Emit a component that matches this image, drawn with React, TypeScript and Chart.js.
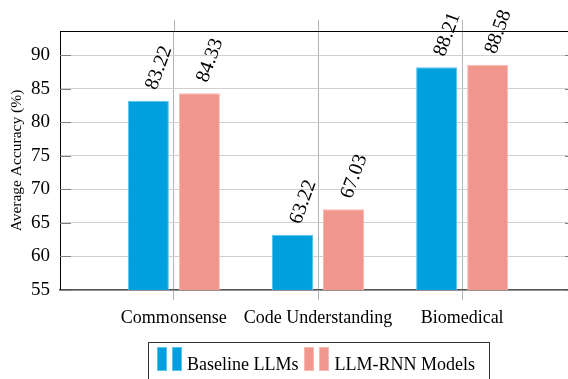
import { useEffect, useRef } from "react";
import { Chart, registerables } from "chart.js";

Chart.register(...registerables);

const categories = ["Commonsense", "Code Understanding", "Biomedical"];
const baselineLLMs = [83.22, 63.22, 88.21];
const llmRnnModels = [84.33, 67.03, 88.58];
const seriesLabels = ["Baseline LLMs", "LLM-RNN Models"];
const yTicks = [55, 60, 65, 70, 75, 80, 85, 90];

const BLUE = "rgb(0,160,222)";
const BLUE_EDGE = "rgb(90,195,238)";
const PINK = "rgb(241,150,141)";
const PINK_EDGE = "rgb(247,185,178)";
const FONT = "'Liberation Serif', 'Times New Roman', serif";

function drawMarker(ctx: CanvasRenderingContext2D, x: number, y: number, fill: string, edge: string) {
  [0, 15].forEach((dx) => {
    ctx.fillStyle = edge;
    ctx.fillRect(x + dx, y, 10, 24);
    ctx.fillStyle = fill;
    ctx.fillRect(x + dx + 1, y + 1, 8, 22);
  });
}

const decor = {
  id: "decor",
  beforeDatasetsDraw(chart: any) {
    const { ctx, chartArea, scales } = chart;
    ctx.save();
    ctx.lineWidth = 1;
    ctx.strokeStyle = "#b4b4b4";
    categories.forEach((_, i) => {
      const px = Math.round(scales.x.getPixelForValue(i)) + 0.5;
      ctx.beginPath();
      ctx.moveTo(px, chartArea.top - 11);
      ctx.lineTo(px, chartArea.top);
      ctx.stroke();
    });
    ctx.strokeStyle = "#808080";
    yTicks.forEach((v) => {
      const py = Math.round(scales.y.getPixelForValue(v)) + 0.5;
      ctx.beginPath();
      ctx.moveTo(chartArea.left, py);
      ctx.lineTo(chartArea.left + 11, py);
      ctx.moveTo(chartArea.right - 11, py);
      ctx.lineTo(chartArea.right, py);
      ctx.stroke();
    });
    ctx.restore();
  },
  afterDraw(chart: any) {
    const { ctx, chartArea } = chart;
    ctx.save();
    // top frame line
    ctx.strokeStyle = "#000";
    ctx.lineWidth = 1;
    ctx.beginPath();
    ctx.moveTo(chartArea.left, Math.round(chartArea.top) + 0.5);
    ctx.lineTo(chartArea.right, Math.round(chartArea.top) + 0.5);
    ctx.stroke();

    // value labels
    ctx.fillStyle = "#000";
    ctx.font = `20px ${FONT}`;
    ctx.textAlign = "left";
    ctx.textBaseline = "middle";
    chart.data.datasets.forEach((ds: any, di: number) => {
      const meta = chart.getDatasetMeta(di);
      meta.data.forEach((bar: any, j: number) => {
        const v = ds.data[j].y;
        ctx.save();
        ctx.translate(bar.x + 1, bar.y - 6);
        ctx.rotate((-70 * Math.PI) / 180);
        ctx.fillText(v.toFixed(2), 6, 0);
        ctx.restore();
      });
    });

    // legend (custom, ybar style markers)
    ctx.font = `18px ${FONT}`;
    ctx.textBaseline = "alphabetic";
    const items = chart.data.datasets.map((ds: any) => ({
      text: ds.label,
      fill: ds.backgroundColor,
      edge: ds.borderColor,
      w: ctx.measureText(ds.label).width,
    }));
    const contentW =
      items.reduce((s: number, it: any) => s + 25 + 5 + it.w, 0) + 6 * (items.length - 1);
    const boxW = contentW + 9 + 14;
    const cx = (chartArea.left + chartArea.right) / 2;
    const boxL = Math.round(cx - boxW / 2);
    const boxT = chartArea.bottom + 52;
    ctx.strokeStyle = "#333";
    ctx.lineWidth = 1;
    ctx.strokeRect(boxL + 0.5, Math.round(boxT) + 0.5, Math.round(boxW), 60);
    let x = boxL + 9;
    items.forEach((it: any) => {
      drawMarker(ctx, Math.round(x), Math.round(boxT) + 5, it.fill, it.edge);
      x += 30;
      ctx.fillStyle = "#000";
      ctx.fillText(it.text, x, boxT + 27.5);
      x += it.w + 6;
    });
    ctx.restore();
  },
};

export default function App() {
  const ref = useRef<HTMLCanvasElement | null>(null);

  useEffect(() => {
    if (!ref.current) return;
    const chart = new Chart(ref.current, {
      type: "bar",
      data: {
        datasets: [
          {
            label: seriesLabels[0],
            data: baselineLLMs.map((y, i) => ({ x: i, y })),
            backgroundColor: BLUE,
            borderColor: BLUE_EDGE,
            borderWidth: 1,
            categoryPercentage: 0.708,
            barPercentage: 0.804,
          },
          {
            label: seriesLabels[1],
            data: llmRnnModels.map((y, i) => ({ x: i, y })),
            backgroundColor: PINK,
            borderColor: PINK_EDGE,
            borderWidth: 1,
            categoryPercentage: 0.708,
            barPercentage: 0.804,
          },
        ] as any,
      },
      plugins: [decor],
      options: {
        animation: false,
        responsive: false,
        maintainAspectRatio: false,
        layout: { padding: { top: 31, right: 60, left: 0, bottom: 38 } },
        plugins: {
          tooltip: { enabled: false },
          legend: { display: false },
        },
        scales: {
          x: {
            type: "linear",
            offset: false,
            min: -0.79,
            max: 2.79,
            afterBuildTicks: (s: any) => {
              s.ticks = categories.map((_, i) => ({ value: i }));
            },
            afterFit: (s: any) => {
              s.height = 52;
            },
            ticks: {
              callback: (v: any) => categories[v] ?? "",
              color: "#000",
              font: { family: FONT, size: 18 },
              padding: 7,
              maxRotation: 0,
              autoSkip: false,
            },
            grid: { offset: false, color: "#b4b4b4", tickColor: "#b4b4b4", tickLength: 10 },
            border: { color: "#555", width: 1.5 },
          },
          y: {
            min: 55,
            max: 93.6,
            afterBuildTicks: (s: any) => {
              s.ticks = yTicks.map((v) => ({ value: v }));
            },
            afterFit: (s: any) => {
              s.width = 60;
            },
            ticks: {
              color: "#000",
              font: { family: FONT, size: 19 },
              padding: 10,
            },
            grid: { color: "#d0d0d0", drawTicks: false },
            border: { color: "#000", width: 1 },
            title: {
              display: true,
              text: "Average Accuracy (%)",
              color: "#000",
              font: { family: FONT, size: 15.5 },
              padding: { top: 8, bottom: 0 },
            },
          },
        },
      } as any,
    });
    return () => chart.destroy();
  }, []);

  return (
    <div
      style={{
        position: "fixed",
        left: 0,
        top: 0,
        width: 568,
        height: 379,
        overflow: "hidden",
        background: "#fff",
      }}
    >
      <canvas ref={ref} width={636} height={380} style={{ display: "block" }} />
    </div>
  );
}
